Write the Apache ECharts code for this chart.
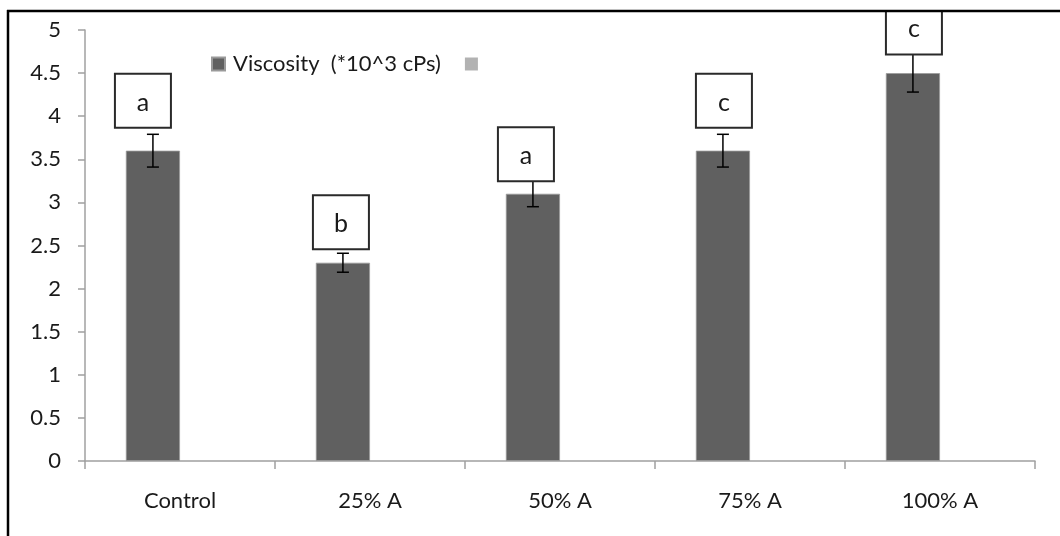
<!DOCTYPE html>
<html>
<head>
<meta charset="utf-8">
<script src="https://cdn.jsdelivr.net/npm/echarts@6/dist/echarts.min.js"></script>
<style>html,body{margin:0;padding:0;background:#fff;}#chart{width:1060px;height:536px;}</style>
</head>
<body>
<div id="chart"></div>
<script>
// ---- data ----
const categories = ['Control', '25% A', '50% A', '75% A', '100% A'];
const viscosity = [3.6, 2.3, 3.1, 3.6, 4.5];
const errors = [0.19, 0.11, 0.15, 0.19, 0.22];
const letters = ['a', 'b', 'a', 'c', 'c'];
const letterBoxCenter = [4.18, 2.77, 3.56, 4.18, 5.03];
const seriesName = 'Viscosity  (*10^3 cPs)';
const emptySeriesName = 'Series 2';
const emptySeries = [null, null, null, null, null];

// ---- styling ----
const FONT = 'Lato, "Open Sans", sans-serif';
const TEXT = '#1a1a1a';
const BAR_GAP_RATIO = 0.43;
const boxShiftPx = [-10, -2, -7, 1, 1];

const chart = echarts.init(document.getElementById('chart'));

function barOffset(api) {
  const catW = api.size([1, 0])[0];
  const bw = catW * (1 - BAR_GAP_RATIO) / 2;
  return -bw / 2;
}

chart.setOption({
  animation: false,
  backgroundColor: '#fff',
  grid: { left: 85, right: 25, top: 30, bottom: 75, containLabel: false },
  legend: {
    left: 206, top: 48,
    icon: 'rect', itemWidth: 13, itemHeight: 13, itemGap: 24,
    data: [seriesName, emptySeriesName],
    formatter: n => (n === emptySeriesName ? '' : n),
    textStyle: { fontFamily: FONT, fontSize: 22, color: TEXT, padding: [0, 0, 0, 3] },
    selectedMode: false
  },
  xAxis: {
    type: 'category',
    data: categories,
    axisLine: { lineStyle: { color: '#a0a0a0', width: 1.5 } },
    axisTick: { show: true, length: 8, lineStyle: { color: '#a0a0a0', width: 1.5 } },
    axisLabel: { margin: 29, fontFamily: FONT, fontSize: 22, color: TEXT },
    splitLine: { show: false }
  },
  yAxis: {
    type: 'value', min: 0, max: 5, interval: 0.5,
    axisLine: { show: true, lineStyle: { color: '#a0a0a0', width: 1.5 } },
    axisTick: { show: true, length: 7, lineStyle: { color: '#a0a0a0', width: 1.5 } },
    axisLabel: { margin: 24, fontFamily: FONT, fontSize: 22, color: TEXT },
    splitLine: { show: false }
  },
  series: [
    {
      name: seriesName, type: 'bar', data: viscosity,
      barGap: '0%', barCategoryGap: (BAR_GAP_RATIO * 100) + '%',
      itemStyle: { color: '#606060', borderColor: '#9a9a9a', borderWidth: 0.8 }
    },
    {
      name: emptySeriesName, type: 'bar', data: emptySeries,
      itemStyle: { color: '#b2b2b2' }
    },
    {
      type: 'custom', name: 'err', z: 5,
      data: viscosity.map((v, i) => [i, v - errors[i], v + errors[i]]),
      renderItem: (params, api) => {
        const off = barOffset(api);
        const lo = api.coord([api.value(0), api.value(1)]);
        const hi = api.coord([api.value(0), api.value(2)]);
        const x = lo[0] + off;
        const cap = 6;
        const st = { stroke: '#000', lineWidth: 1.5 };
        return {
          type: 'group', children: [
            { type: 'line', shape: { x1: x, y1: lo[1], x2: x, y2: hi[1] }, style: st },
            { type: 'line', shape: { x1: x - cap, y1: lo[1], x2: x + cap, y2: lo[1] }, style: st },
            { type: 'line', shape: { x1: x - cap, y1: hi[1], x2: x + cap, y2: hi[1] }, style: st }
          ]
        };
      }
    },
    {
      type: 'custom', name: 'letters', z: 6,
      data: letterBoxCenter.map((v, i) => [i, v]),
      renderItem: (params, api) => {
        const i = params.dataIndex;
        const off = barOffset(api);
        const c = api.coord([api.value(0), api.value(1)]);
        const w = 56, h = 54;
        const cx = c[0] + off + boxShiftPx[i];
        return {
          type: 'group', children: [
            { type: 'rect', shape: { x: cx - w / 2, y: c[1] - h / 2, width: w, height: h },
              style: { fill: '#fff', stroke: '#2a2a2a', lineWidth: 2 } },
            { type: 'text', x: cx, y: c[1] + 2,
              style: { text: letters[i], fontFamily: FONT, fontSize: 25, fill: TEXT, align: 'center', verticalAlign: 'middle' } }
          ]
        };
      }
    }
  ],
  graphic: [
    { type: 'rect', z: 100, shape: { x: 0, y: 0, width: 1060, height: 10 }, style: { fill: '#fff' } },
    { type: 'line', z: 101, shape: { x1: 7, y1: 11, x2: 1060, y2: 11 }, style: { stroke: '#000', lineWidth: 2.5 } },
    { type: 'line', z: 101, shape: { x1: 8, y1: 10, x2: 8, y2: 536 }, style: { stroke: '#000', lineWidth: 2.5 } }
  ]
});
</script>
</body>
</html>
